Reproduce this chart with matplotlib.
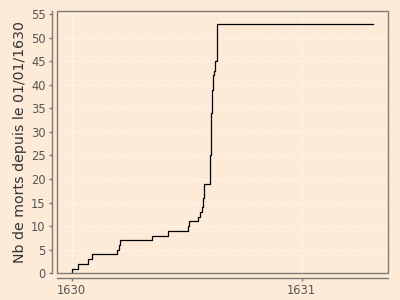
import matplotlib.pyplot as plt
import matplotlib.patches as mpatches
import numpy as np

# date (fractional year) of each recorded death, in order
death_dates = [
    1630.000, 1630.029, 1630.072, 1630.087, 1630.198, 1630.204, 1630.210,
    1630.348, 1630.420, 1630.504, 1630.511, 1630.548, 1630.558, 1630.567,
    1630.569, 1630.572, 1630.574, 1630.576, 1630.577,
    1630.603, 1630.603, 1630.603, 1630.603, 1630.603, 1630.603,
    1630.605, 1630.605, 1630.605, 1630.605, 1630.605, 1630.605, 1630.605, 1630.605,
    1630.607, 1630.608, 1630.609, 1630.610, 1630.611, 1630.612, 1630.613,
    1630.614, 1630.615, 1630.620, 1630.622, 1630.624,
    1630.630, 1630.630, 1630.630, 1630.630, 1630.630, 1630.630, 1630.630, 1630.630,
]
end_date = 1631.309
x_ticks = [1630, 1631]
y_ticks = list(range(0, 56, 5))

bg = "#fdebd8"
edge = "#7f7a74"


def main():
    counts = np.arange(1, len(death_dates) + 1)
    x = np.concatenate([[death_dates[0]], death_dates, [end_date]])
    y = np.concatenate([[0], counts, [counts[-1]]])

    fig = plt.figure(figsize=(4, 3), dpi=100, facecolor=bg)
    ax = fig.add_axes([0.142, 0.089, 0.829, 0.875])
    ax.set_facecolor(bg)

    ax.step(x, y, where="post", color="black", lw=0.9, zorder=3)

    ax.set_xlim(1629.935, 1631.377)
    ax.set_ylim(0, 55.7)
    ax.set_xticks(x_ticks)
    ax.set_yticks(y_ticks)

    ax.grid(True, color="white", linestyle="--", lw=0.7, alpha=0.55, zorder=0)

    for s in ["left", "bottom"]:
        ax.spines[s].set_position(("outward", 3.5))
        ax.spines[s].set_color(edge)
        ax.spines[s].set_linewidth(1.0)
    for s in ["top", "right"]:
        ax.spines[s].set_visible(False)
    ax.add_patch(mpatches.Rectangle((0, 0), 1, 1, transform=ax.transAxes,
                                    fill=False, edgecolor=edge, lw=1.0,
                                    clip_on=False, zorder=4))

    ax.tick_params(colors=edge, labelcolor="#555555", labelsize=8.3,
                   length=2.5, width=1.0, pad=2)
    ax.set_ylabel("Nb de morts depuis le 01/01/1630", fontsize=10.2,
                  color="#333333", labelpad=3)

    fig.savefig("out.png", dpi=100, facecolor=bg)


if __name__ == "__main__":
    main()
